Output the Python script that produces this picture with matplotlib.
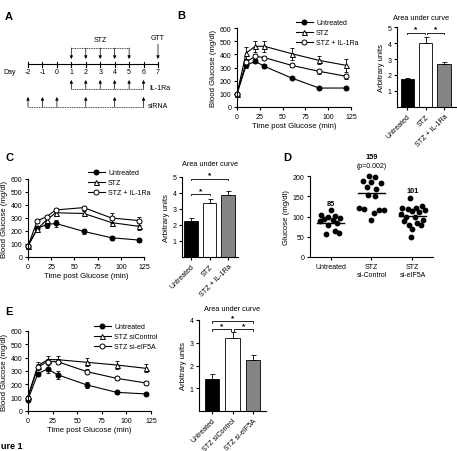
#!/usr/bin/env python3
"""
Glucose tolerance figure: timeline, GTT curves, AUC bars, fasting glucose dots
"""

import numpy as np
import matplotlib
matplotlib.use("Agg")
import matplotlib.pyplot as plt

plt.rcParams['font.family'] = ['Liberation Sans', 'DejaVu Sans']
plt.rcParams['font.size'] = 5
plt.rcParams['axes.linewidth'] = 0.8
plt.rcParams['xtick.major.width'] = 0.8
plt.rcParams['ytick.major.width'] = 0.8
plt.rcParams['xtick.major.size'] = 2.5
plt.rcParams['ytick.major.size'] = 2.5
plt.rcParams['xtick.major.pad'] = 1.5
plt.rcParams['ytick.major.pad'] = 1.5
plt.rcParams['xtick.labelsize'] = 5
plt.rcParams['ytick.labelsize'] = 5

# ---- data ----
# panel A timeline (days)
days = [-2, -1, 0, 1, 2, 3, 4, 5, 6, 7]
stz_days = [1, 2, 3, 4, 5]
il1ra_days = [1, 2, 3, 4, 5, 6]
sirna_days = [-2, -1, 0, 2, 4, 6]
gtt_day = 7

time_pts = [0, 10, 20, 30, 60, 90, 120]

# panel B curves
b_untreated = [100, 316, 347, 309, 220, 144, 144]
b_untreated_err = [0, 20, 15, 15, 8, 8, 8]
b_stz = [100, 410, 461, 461, 405, 354, 316]
b_stz_err = [0, 45, 40, 40, 45, 30, 50]
b_il1ra = [100, 342, 385, 375, 316, 271, 233]
b_il1ra_err = [0, 20, 20, 15, 15, 20, 20]

# panel C curves
c_untreated = [85, 220, 250, 258, 197, 148, 130]
c_untreated_err = [0, 12, 25, 30, 20, 15, 12]
c_stz = [85, 215, 285, 340, 335, 265, 235]
c_stz_err = [0, 12, 15, 15, 15, 20, 30]
c_il1ra = [85, 278, 310, 362, 380, 300, 280]
c_il1ra_err = [0, 15, 12, 15, 15, 35, 30]

# panel E curves
e_untreated = [85, 280, 315, 272, 195, 140, 128]
e_untreated_err = [0, 15, 30, 30, 25, 10, 8]
e_sictrl = [110, 340, 385, 385, 365, 345, 320]
e_sictrl_err = [0, 25, 25, 25, 30, 30, 30]
e_sieif = [100, 330, 370, 370, 295, 245, 210]
e_sieif_err = [0, 20, 20, 20, 20, 15, 12]

# AUC bars
bc_labels = ["Untreated", "STZ", "STZ + IL-1Ra"]
auc_b = [1.75, 4.0, 2.7]
auc_b_err = [0.05, 0.4, 0.12]
auc_c = [2.25, 3.4, 3.85]
auc_c_err = [0.2, 0.2, 0.25]
e_labels = ["Untreated", "STZ siControl", "STZ si-eIF5A"]
auc_e = [1.4, 3.2, 2.25]
auc_e_err = [0.22, 0.28, 0.2]

# panel D fasting glucose
d_labels = ["Untreated", "STZ\nsi-Control", "STZ\nsi-eIF5A"]
d_means = [85, 159, 101]
d_untreated = [115, 103, 101, 100, 97, 95, 92, 88, 84, 80, 65, 60, 57]
d_untreated_x = [0.0, -0.22, 0.12, -0.05, 0.22, -0.15, 0.05, -0.25, 0.15, -0.05, 0.1, 0.2, -0.12]
d_sictrl = [200, 198, 187, 185, 183, 172, 168, 152, 150, 120, 118, 117, 115, 108, 92]
d_sictrl_x = [-0.07, 0.08, -0.2, 0.0, 0.22, -0.1, 0.12, -0.08, 0.08, -0.3, -0.18, 0.3, 0.18, 0.05, 0.0]
d_sieif = [145, 125, 122, 120, 118, 115, 113, 112, 105, 100, 98, 92, 88, 85, 80, 78, 68, 50]
d_sieif_x = [-0.05, 0.22, -0.25, 0.08, -0.12, 0.3, -0.02, 0.15, -0.28, 0.05, -0.15, 0.25, -0.2, 0.1, -0.08, 0.2, 0.0, -0.03]

W, H = 457, 452
fig = plt.figure(figsize=(W / 100, H / 100), dpi=100)


def px_axes(l, t, r, b):
    return fig.add_axes([l / W, 1 - b / H, (r - l) / W, (b - t) / H])


def prism(ax):
    ax.spines['top'].set_visible(False)
    ax.spines['right'].set_visible(False)
    ax.tick_params(direction='out')


def gtt_panel(ax, series, labels, leg_xy):
    styles = [dict(marker='o', mfc='k', mec='k'),
              dict(marker='^', mfc='white', mec='k'),
              dict(marker='o', mfc='white', mec='k')]
    handles = []
    for (vals, err), lab, st in zip(series, labels, styles):
        ax.errorbar(time_pts, vals, yerr=err, fmt='none', ecolor='k',
                    elinewidth=0.6, capsize=1.6, capthick=0.6, clip_on=False)
        ln, = ax.plot(time_pts, vals, color='k', lw=0.8, ms=3.6, mew=0.7,
                      clip_on=False, label=lab, **st)
        handles.append(ln)
    ax.set_xlim(0, 125)
    ax.set_ylim(0, 600)
    ax.set_xticks([0, 25, 50, 75, 100, 125])
    ax.set_yticks([0, 100, 200, 300, 400, 500, 600])
    ax.set_xlabel("Time post Glucose (min)", fontsize=5.6, labelpad=2)
    ax.set_ylabel("Blood Glucose (mg/dl)", fontsize=5.6, labelpad=2)
    prism(ax)
    ax.legend(handles=handles, loc='upper left', frameon=False,
              bbox_to_anchor=(leg_xy[0] / W, 1 - leg_xy[1] / H),
              bbox_transform=fig.transFigure, handlelength=2.4,
              handletextpad=0.5, labelspacing=0.45, borderaxespad=0,
              borderpad=0, fontsize=5)


def bracket(ax, x1, x2, y, drop):
    ax.plot([x1, x1, x2, x2], [y - drop, y, y, y - drop], color='k', lw=0.6,
            clip_on=False)
    ax.text((x1 + x2) / 2, y, "*", ha='center', va='bottom', fontsize=6,
            fontweight='bold')


def auc_panel(ax, vals, err, labels, ymax, brackets, xlim, width, pad, tx=0.5):
    x = np.arange(len(vals))
    colors = ['black', 'white', '#858585']
    ax.bar(x, vals, width=width, color=colors, edgecolor='k', linewidth=0.6,
           yerr=[[0] * len(err), err], capsize=1.8,
           error_kw=dict(elinewidth=0.6, capthick=0.6))
    ax.set_xlim(*xlim)
    ax.set_ylim(0, ymax)
    ax.set_yticks(range(1, ymax + 1))
    ax.set_xticks(x)
    ax.set_xticklabels(labels, rotation=45, ha='right', rotation_mode='anchor')
    ax.set_ylabel("Arbitrary units", fontsize=5.6, labelpad=2)
    ax.set_title("Area under curve", fontsize=5.3, pad=pad, x=tx)
    prism(ax)
    for x1, x2, y in brackets:
        bracket(ax, x1, x2, y, 0.1 * ymax / 5)


# ---- panel A ----
axA = px_axes(0, 0, 176, 125)
px_per_day = 130 / 9.0
axA.set_xlim(-2 - 28 / px_per_day, -2 + 148 / px_per_day)
axA.set_ylim(125, 0)
axA.axis('off')
arrow = dict(arrowstyle='-|>', lw=0.5, color='k', mutation_scale=4.5,
             shrinkA=0, shrinkB=0)
dash = dict(color='k', lw=0.5, ls=(0, (1.5, 1)))
axA.plot([days[0], days[-1]], [65, 65], color='k', lw=0.8)
for d in days:
    axA.plot([d, d], [62.5, 67.5], color='k', lw=0.8)
    axA.text(d, 73, str(d), ha='center', va='center', fontsize=5)
axA.text(days[0] - 1.3, 73, "Day", ha='center', va='center', fontsize=5)
axA.plot([stz_days[0], stz_days[-1]], [49, 49], **dash)
for d in stz_days:
    axA.annotate('', xy=(d, 60), xytext=(d, 49), arrowprops=arrow)
axA.text(np.mean(stz_days), 41, "STZ", ha='center', va='center', fontsize=5)
axA.annotate('', xy=(gtt_day, 60), xytext=(gtt_day, 45), arrowprops=arrow)
axA.text(gtt_day, 38, "GTT", ha='center', va='center', fontsize=5)
axA.plot([il1ra_days[0], il1ra_days[-1]], [90, 90], **dash)
for d in il1ra_days:
    axA.annotate('', xy=(d, 81), xytext=(d, 90), arrowprops=arrow)
axA.text(il1ra_days[-1] + 0.4, 89, "IL-1Ra", ha='left', va='center', fontsize=5)
axA.plot([sirna_days[0], sirna_days[-1]], [108, 108], **dash)
for d in sirna_days:
    axA.annotate('', xy=(d, 98), xytext=(d, 108), arrowprops=arrow)
axA.text(sirna_days[-1] + 0.3, 107, "siRNA", ha='left', va='center', fontsize=5)

# ---- panel B ----
axB = px_axes(237, 29, 351, 108)
gtt_panel(axB, [(b_untreated, b_untreated_err), (b_stz, b_stz_err),
                (b_il1ra, b_il1ra_err)], bc_labels, (296, 20))
axBb = px_axes(397, 28, 457, 108)
auc_panel(axBb, auc_b, auc_b_err, bc_labels, 5,
          [(0, 0.95, 4.65), (1.05, 2, 4.65)], (-0.55, 2.7), 0.72, 6, tx=0.4)

# ---- panel C ----
axC = px_axes(28, 180, 144, 258)
gtt_panel(axC, [(c_untreated, c_untreated_err), (c_stz, c_stz_err),
                (c_il1ra, c_il1ra_err)], bc_labels, (88, 170))
axCb = px_axes(182, 178, 238, 258)
auc_panel(axCb, auc_c, auc_c_err, bc_labels, 5,
          [(0, 2, 4.9), (0, 1, 3.95)], (-0.49, 2.54), 0.72, 9)

# ---- panel D ----
axD = px_axes(310, 177, 433, 258)
groups = [(d_untreated, d_untreated_x), (d_sictrl, d_sictrl_x), (d_sieif, d_sieif_x)]
for i, (vals, offs) in enumerate(groups):
    pos = i + 1
    axD.scatter(pos + np.array(offs), vals, s=10, color='k', zorder=3, clip_on=False)
    axD.plot([pos - 0.33, pos + 0.33], [d_means[i], d_means[i]], color='k', lw=1.0)
    top = max(vals) + 18
    if i == 1:
        axD.text(pos, top + 9, "(p=0.002)", ha='center', va='center', fontsize=5)
        top += 29
    axD.text(pos, top, str(d_means[i]), ha='center', va='center', fontsize=5.3,
             fontweight='bold')
axD.set_xlim(0.5, 3.5)
axD.set_ylim(0, 200)
axD.set_yticks([0, 50, 100, 150, 200])
axD.set_xticks([1, 2, 3])
axD.set_xticklabels(d_labels, fontsize=5)
axD.set_ylabel("Glucose (mg/dl)", fontsize=5.6, labelpad=2)
prism(axD)

# ---- panel E ----
axE = px_axes(28, 332, 151, 412)
gtt_panel(axE, [(e_untreated, e_untreated_err), (e_sictrl, e_sictrl_err),
                (e_sieif, e_sieif_err)], e_labels, (94, 324))
axEb = px_axes(199, 321, 266, 412)
auc_panel(axEb, auc_e, auc_e_err, e_labels, 4,
          [(0, 2, 3.95), (0, 0.95, 3.6), (1.05, 2, 3.6)], (-0.63, 2.63), 0.72, 7)

# panel letters
for lab, x, y in [("A", 5, 17), ("B", 177, 16), ("C", 5, 158), ("D", 283, 158), ("E", 5, 312)]:
    fig.text(x / W, 1 - y / H, lab, fontsize=8, fontweight='bold', ha='left', va='center')
# caption is cropped in the source image: only its tail is visible
fig.text(1 / W, 1 - 447 / H, "ure 1", fontsize=6.5, fontweight='bold', ha='left', va='center')

fig.savefig("out.png", dpi=100)
